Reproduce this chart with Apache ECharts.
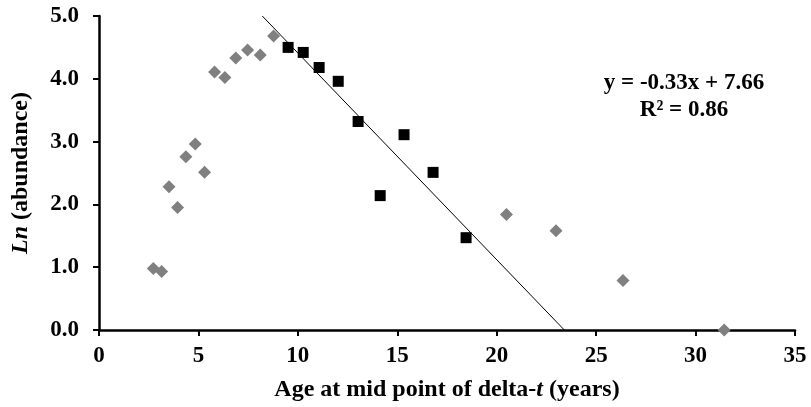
<!DOCTYPE html>
<html>
<head>
<meta charset="utf-8">
<script src="https://cdn.jsdelivr.net/npm/echarts@6/dist/echarts.min.js"></script>
<style>
  html, body { margin: 0; padding: 0; background: #fff; }
  #chart { width: 811px; height: 407px; }
</style>
</head>
<body>
<div id="chart"></div>
<script>
// ages outside the fitted window (gray diamonds)
var grayX = [2.73, 3.15, 3.52, 3.95, 4.37, 4.84, 5.31, 5.81, 6.33, 6.88, 7.47, 8.11, 8.78, 20.49, 22.98, 26.35, 31.44];
var grayY = [0.98, 0.93, 2.28, 1.95, 2.76, 2.96, 2.51, 4.11, 4.02, 4.33, 4.46, 4.38, 4.68, 1.84, 1.58, 0.79, 0.00];
// fitted points (black squares)
var blackX = [9.51, 10.27, 11.07, 12.03, 13.03, 14.14, 15.34, 16.80, 18.46];
var blackY = [4.50, 4.42, 4.18, 3.96, 3.32, 2.14, 3.11, 2.51, 1.47];
var yRange = [0, 5];

function pairs(xs, ys) {
  return xs.map(function (x, i) { return [x, ys[i]]; });
}

// least squares fit on the black points (same as the excel trendline)
function fit(xs, ys) {
  var n = xs.length, mx = 0, my = 0, sxy = 0, sxx = 0;
  xs.forEach(function (x, i) { mx += x / n; my += ys[i] / n; });
  xs.forEach(function (x, i) {
    sxy += (x - mx) * (ys[i] - my);
    sxx += (x - mx) * (x - mx);
  });
  var b = sxy / sxx;
  return { slope: b, intercept: my - b * mx };
}
var lr = fit(blackX, blackY);
// trend line between the y range edges
var trend = [yRange[1], yRange[0]].map(function (y) {
  return [(y - lr.intercept) / lr.slope, y];
});

var font = '"Liberation Serif", "Times New Roman", serif';
var fs = 23;
var chart = echarts.init(document.getElementById('chart'));
chart.setOption({
  animation: false,
  grid: { left: 99, right: 16, top: 16, bottom: 77 },
  xAxis: {
    type: 'value',
    min: 0, max: 35, interval: 5,
    name: 'Age at mid point of delta-{i|t} (years)',
    nameLocation: 'middle',
    nameGap: 48,
    nameTextStyle: {
      fontFamily: font, fontWeight: 'bold', fontSize: 24, color: '#000',
      rich: { i: { fontFamily: font, fontWeight: 'bold', fontStyle: 'italic', fontSize: 24, color: '#000' } }
    },
    axisLine: { lineStyle: { color: '#000', width: 2.5 } },
    axisTick: { show: true, length: 6, lineStyle: { color: '#000', width: 2 } },
    axisLabel: { margin: 15, fontFamily: font, fontWeight: 'bold', fontSize: fs, color: '#000' },
    splitLine: { show: false }
  },
  yAxis: {
    type: 'value',
    min: 0, max: 5, interval: 1,
    name: '{i|Ln} (abundance)',
    nameLocation: 'middle',
    nameGap: 66,
    nameTextStyle: {
      fontFamily: font, fontWeight: 'bold', fontSize: 24, color: '#000',
      rich: { i: { fontFamily: font, fontWeight: 'bold', fontStyle: 'italic', fontSize: 24, color: '#000' } }
    },
    axisLine: { show: true, lineStyle: { color: '#000', width: 2.5 } },
    axisTick: { show: true, length: 6, lineStyle: { color: '#000', width: 2 } },
    axisLabel: {
      margin: 20, fontFamily: font, fontWeight: 'bold', fontSize: fs, color: '#000',
      formatter: function (v) { return v.toFixed(1); }
    },
    splitLine: { show: false }
  },
  graphic: [
    {
      type: 'text', x: 684, y: 70,
      style: {
        text: 'y = -0.33x + 7.66\nR\u00b2 = 0.86',
        align: 'center', lineHeight: 27,
        font: 'bold 23px "Liberation Serif", "Times New Roman", serif',
        fill: '#000'
      }
    }
  ],
  series: [
    {
      type: 'line',
      data: trend,
      showSymbol: false,
      lineStyle: { color: '#000', width: 1 },
      clip: true,
      z: 1
    },
    {
      type: 'scatter',
      data: pairs(grayX, grayY),
      symbol: 'diamond',
      symbolSize: 13,
      itemStyle: { color: '#808080', opacity: 1 },
      z: 2
    },
    {
      type: 'scatter',
      data: pairs(blackX, blackY),
      symbol: 'rect',
      symbolSize: 11,
      itemStyle: { color: '#000', opacity: 1 },
      z: 3
    }
  ]
});
</script>
</body>
</html>
